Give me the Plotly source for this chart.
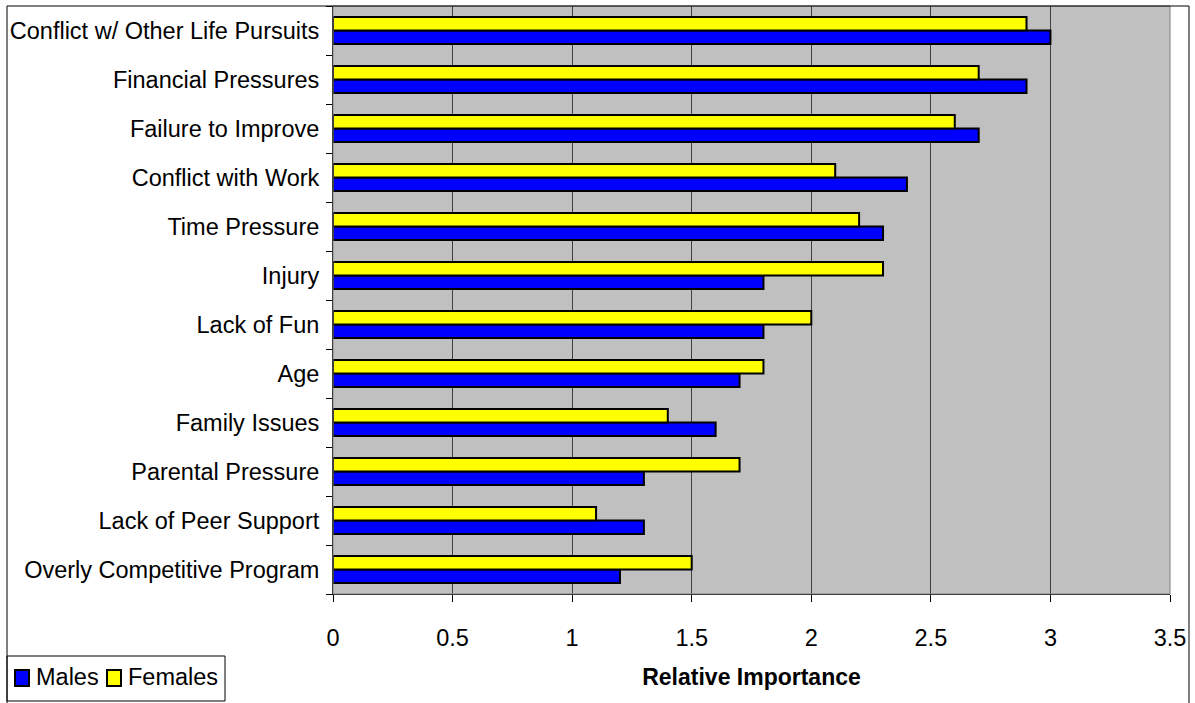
import plotly.graph_objects as go

# Categories listed bottom-to-top (as plotted on the category axis)
categories = [
    "Overly Competitive Program",
    "Lack of Peer Support",
    "Parental Pressure",
    "Family Issues",
    "Age",
    "Lack of Fun",
    "Injury",
    "Time Pressure",
    "Conflict with Work",
    "Failure to Improve",
    "Financial Pressures",
    "Conflict w/ Other Life Pursuits",
]
males = [1.2, 1.3, 1.3, 1.6, 1.7, 1.8, 1.8, 2.3, 2.4, 2.7, 2.9, 3.0]
females = [1.5, 1.1, 1.7, 1.4, 1.8, 2.0, 2.3, 2.2, 2.1, 2.6, 2.7, 2.9]
x_ticks = [0, 0.5, 1, 1.5, 2, 2.5, 3, 3.5]
x_tick_labels = ["0", "0.5", "1", "1.5", "2", "2.5", "3", "3.5"]
series_names = ["Males", "Females"]
series_colors = ["#0000FF", "#FFFF00"]

FONT = "Liberation Sans, Arial, sans-serif"
FS = 23.5

fig = go.Figure()
for name, vals, col in zip(series_names, [males, females], series_colors):
    fig.add_trace(go.Bar(
        name=name, y=categories, x=vals, orientation="h",
        marker=dict(color=col, line=dict(color="#000000", width=2)),
    ))

L, R, T, B = 333, 25, 6, 109
W, H = 1195, 703
pw = W - L - R
ph = H - T - B

def px_x(p):
    return (p - L) / pw

def px_y(p):
    return (H - B - p) / ph

shapes = [
    # plot area border (top/right, gray)
    dict(type="rect", xref="paper", yref="paper", x0=0, x1=1, y0=0, y1=1,
         line=dict(color="#808080", width=1), layer="above"),
    # outer chart border
    dict(type="line", xref="paper", yref="paper",
         x0=px_x(7), x1=px_x(7), y0=px_y(6), y1=px_y(710),
         line=dict(color="#000000", width=1)),
    dict(type="line", xref="paper", yref="paper",
         x0=px_x(7), x1=px_x(1189), y0=px_y(6), y1=px_y(6),
         line=dict(color="#000000", width=1)),
    dict(type="line", xref="paper", yref="paper",
         x0=px_x(1189), x1=px_x(1189), y0=px_y(6), y1=px_y(710),
         line=dict(color="#000000", width=1)),
    # legend box
    dict(type="rect", xref="paper", yref="paper",
         x0=px_x(7), x1=px_x(225), y0=px_y(701), y1=px_y(656),
         line=dict(color="#000000", width=1), fillcolor="rgba(0,0,0,0)"),
]
annotations = []
# legend entries (key square + label)
legend_square_x = [15, 107]
legend_text_x = [34, 126]
for name, col, sx, tx in zip(series_names, series_colors, legend_square_x, legend_text_x):
    shapes.append(dict(type="rect", xref="paper", yref="paper",
                       x0=px_x(sx), x1=px_x(sx + 14), y0=px_y(686), y1=px_y(670),
                       line=dict(color="#000000", width=2), fillcolor=col))
    annotations.append(dict(text=name, xref="paper", yref="paper",
                            x=px_x(tx), y=px_y(677), xanchor="left", yanchor="middle",
                            showarrow=False, font=dict(family=FONT, size=FS, color="#000000")))

fig.update_layout(
    width=W, height=H,
    margin=dict(l=L, r=R, t=T, b=B, pad=0, autoexpand=False),
    paper_bgcolor="#FFFFFF",
    plot_bgcolor="#C0C0C0",
    barmode="group",
    bargap=0.45,
    bargroupgap=0,
    font=dict(family=FONT, size=FS, color="#000000"),
    showlegend=False,
    xaxis=dict(
        range=[0, 3.5], automargin=False,
        tickmode="array", tickvals=x_ticks, ticktext=x_tick_labels,
        showgrid=True, gridcolor="#404040", gridwidth=1,
        zeroline=False,
        showline=True, linecolor="#000000", linewidth=1,
        ticks="outside", ticklen=7, tickcolor="#000000",
        ticklabelstandoff=16,
        tickfont=dict(family=FONT, size=FS),
        title=dict(text="<b>Relative Importance</b>", standoff=18,
                   font=dict(family=FONT, size=23)),
        fixedrange=True,
    ),
    yaxis=dict(
        type="category", automargin=False,
        showgrid=False, zeroline=False,
        showline=True, linecolor="#000000", linewidth=1,
        ticks="outside", ticklen=6, tickcolor="#000000",
        tickson="boundaries",
        ticklabelstandoff=8,
        tickfont=dict(family=FONT, size=FS),
        fixedrange=True,
    ),
    shapes=shapes,
    annotations=annotations,
)

fig.write_html("out.html", config={"displayModeBar": False},
               post_script="document.body.style.margin='0';")
